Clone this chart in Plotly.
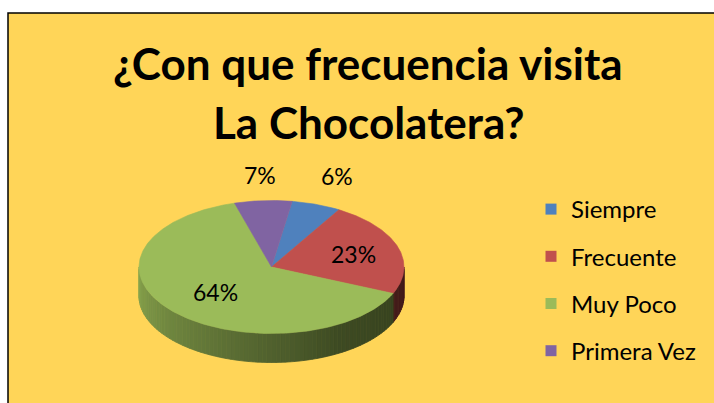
import numpy as np
import plotly.graph_objects as go

# ---- data ----
categories = ["Siempre", "Frecuente", "Muy Poco", "Primera Vez"]
values = [6, 23, 64, 7]
colors = ["#4F81BD", "#C0504D", "#9BBB59", "#8064A2"]
title_lines = ["¿Con que frecuencia visita", "La Chocolatera?"]

# ---- geometry / style ----
W, H = 714, 403
cx, cy, rx, ry, depth = 271.5, 267.0, 132.5, 66.5, 29.0
start_deg = 9.0
label_r = [1.46, 0.65, 0.56, 1.38]
bg_yellow = "#FFD558"
FONT = "Lato"

total = float(sum(values))
frac = np.array(values, dtype=float) / total
ends = start_deg + 360.0 * np.cumsum(frac)
starts = ends - 360.0 * frac


def pt(theta, dy=0.0):
    t = np.radians(theta)
    return cx + rx * np.sin(t), cy - ry * np.cos(t) + dy


def shade(hexc, f):
    h = hexc.lstrip("#")
    r, g, b = (int(h[i:i + 2], 16) for i in (0, 2, 4))
    return "rgb(%d,%d,%d)" % (r * f, g * f, b * f)


def owner(theta):
    m = theta % 360.0
    if m < start_deg:
        m += 360.0
    for i in range(len(values)):
        if starts[i] <= m < ends[i]:
            return i
    return len(values) - 1


fig = go.Figure()

# ---- side (front half) ----
edges = list(np.linspace(90, 270, 91))
for b in list(starts) + list(ends):
    for bb in (b, b - 360.0):
        if 90 < bb < 270:
            edges.append(bb)
edges = sorted(set(edges))
for a0, a1 in zip(edges[:-1], edges[1:]):
    mid = 0.5 * (a0 + a1)
    i = owner(mid)
    f = float(np.interp(mid, [90, 150, 200, 270], [0.34, 0.40, 0.60, 0.88]))
    col = shade(colors[i], f)
    ts = np.linspace(a0, a1, 3)
    xt, yt = pt(ts)
    xb, yb = pt(ts[::-1], depth)
    xs = list(xt) + list(xb) + [xt[0]]
    ys = list(yt) + list(yb) + [yt[0]]
    fig.add_trace(go.Scatter(x=xs, y=ys, mode="lines", fill="toself",
                             fillcolor=col, line=dict(color=col, width=0.8),
                             hoverinfo="skip", showlegend=False))

# ---- top faces ----
for i in range(len(values)):
    ts = np.linspace(starts[i], ends[i], max(int((ends[i] - starts[i]) * 2), 4))
    xa, ya = pt(ts)
    xs = [cx] + list(xa) + [cx]
    ys = [cy] + list(ya) + [cy]
    fig.add_trace(go.Scatter(x=xs, y=ys, mode="lines", fill="toself",
                             fillcolor=colors[i], line=dict(color=colors[i], width=0.6),
                             hoverinfo="skip", showlegend=False))

# ---- legend entries ----
for c, name in zip(colors, categories):
    fig.add_trace(go.Scatter(x=[None], y=[None], mode="markers", name=name,
                             legendgroup=name,
                             marker=dict(symbol="square", size=11, color=c)))

annotations = []
# percent labels
for i in range(len(values)):
    mid = 0.5 * (starts[i] + ends[i])
    t = np.radians(mid)
    lx = cx + label_r[i] * rx * np.sin(t)
    ly = cy - label_r[i] * ry * np.cos(t)
    annotations.append(dict(x=lx, y=ly, xref="x", yref="y",
                            text="%d%%" % round(100 * frac[i]), showarrow=False,
                            font=dict(family=FONT, size=23, color="black"),
                            xanchor="center", yanchor="middle"))
# title
for k, line in enumerate(title_lines):
    annotations.append(dict(x=368, y=63 + 59 * k, xref="x", yref="y", text="<b>%s</b>" % line,
                            showarrow=False, xanchor="center", yanchor="middle",
                            font=dict(family=FONT, size=44, color="black")))

fig.update_layout(
    width=W, height=H,
    margin=dict(l=0, r=0, t=0, b=0),
    paper_bgcolor="white", plot_bgcolor="white",
    xaxis=dict(range=[0, W], visible=False, fixedrange=True),
    yaxis=dict(range=[H, 0], visible=False, fixedrange=True),
    shapes=[dict(type="rect", xref="x", yref="y", x0=8, y0=13, x1=W + 5, y1=H + 5,
                 fillcolor=bg_yellow, line=dict(color="black", width=1.5), layer="below")],
    annotations=annotations,
    showlegend=True,
    legend=dict(x=531 / W, y=1 - 187 / H, xanchor="left", yanchor="top",
                bgcolor="rgba(0,0,0,0)", font=dict(family=FONT, size=24, color="black"),
                tracegroupgap=13, itemclick=False, itemdoubleclick=False),
)

fig.write_html("out.html", config={"displayModeBar": False, "staticPlot": True},
               post_script="document.body.style.margin='0';")
